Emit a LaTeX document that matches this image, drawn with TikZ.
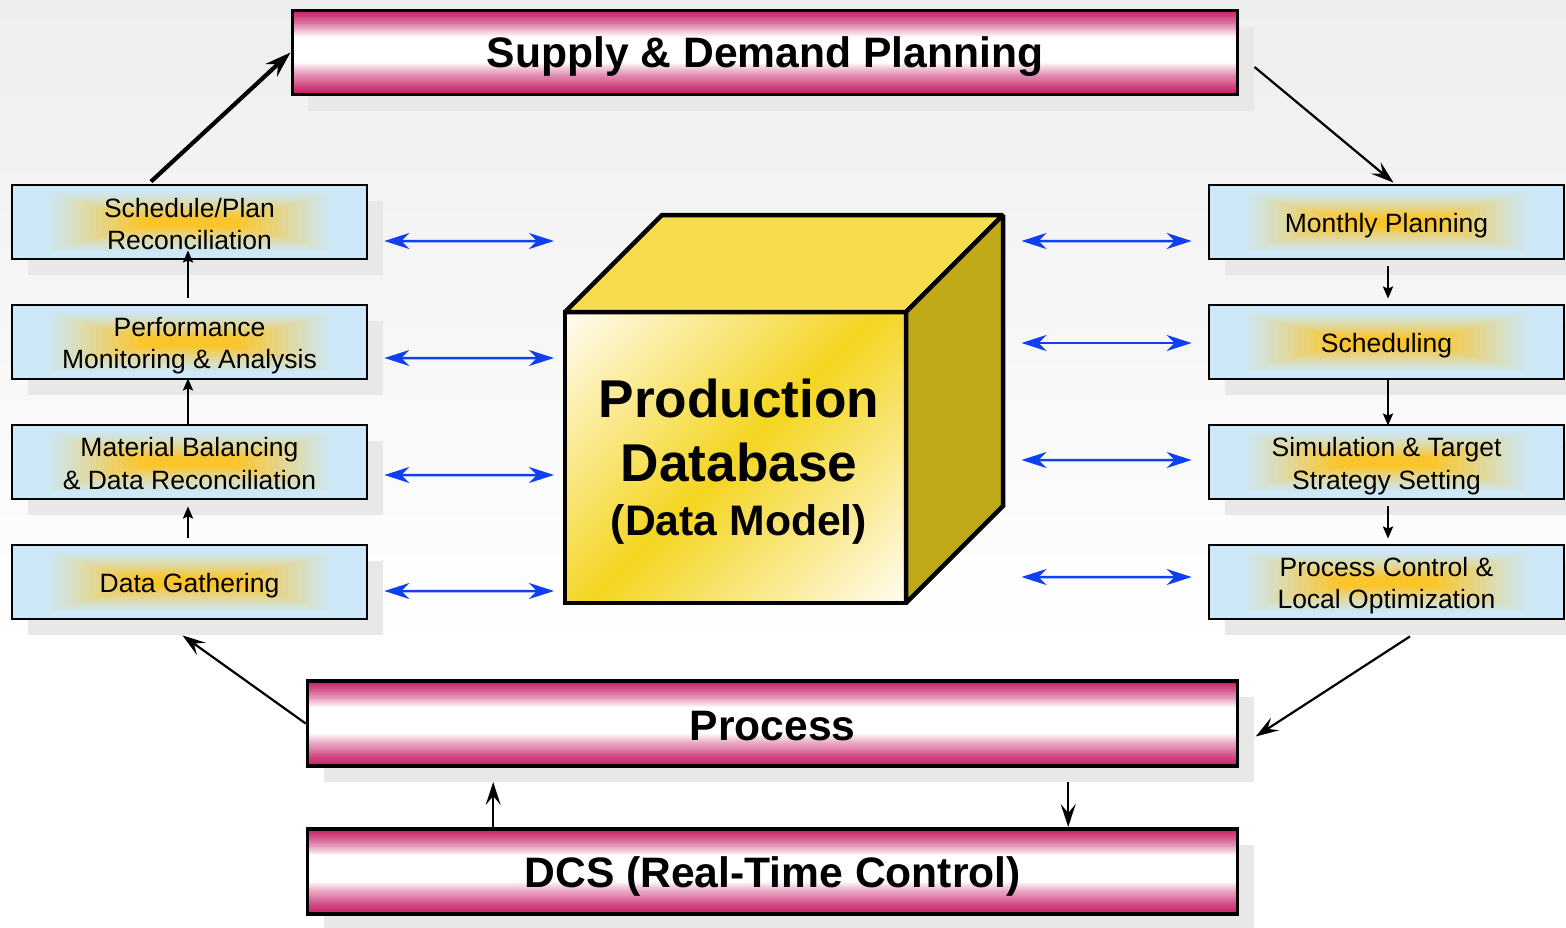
\documentclass[tikz,border=0pt]{standalone}
\usepackage{fontspec}
\setmainfont{Liberation Sans}
\usetikzlibrary{arrows.meta,shadows}
\definecolor{barred}{HTML}{C8246A}
\definecolor{boxblue}{HTML}{CCE8F9}
\definecolor{glowcore}{HTML}{FAC52A}
\definecolor{shadowgray}{HTML}{E8E8E8}
\definecolor{cubeyellow}{HTML}{F4D520}
\definecolor{cubecream}{HTML}{FFFBF0}
\definecolor{cubetop}{HTML}{F7DD4E}
\definecolor{cubeside}{HTML}{C1AA19}
\definecolor{arrowblue}{HTML}{0F3FF0}
\definecolor{bgtop}{HTML}{EEEEEE}
\newcommand{\boxline}{\rule[-5bp]{0pt}{32bp}}
\newcommand{\barline}{\rule[-7bp]{0pt}{47bp}}
\pgfdeclareverticalshading{frontshade}{100bp}{color(0bp)=(cubecream);color(15bp)=(cubecream);color(50bp)=(cubeyellow);color(85bp)=(cubecream);color(100bp)=(cubecream)}
\tikzset{
  x=1bp,y=-1bp,
  shadowed/.style={drop shadow={shadow xshift=16bp,shadow yshift=-16bp,fill=shadowgray,opacity=1}},
  bar/.style={shadowed,rectangle,draw=black,line width=3.4bp,fill=barred,inner sep=0pt,outer sep=0pt,
    font=\bfseries\fontsize{42.6bp}{42.6bp}\selectfont,
    path picture={
      \foreach \i in {1,...,30}{
        \pgfmathsetmacro{\s}{\i/30}
        \pgfmathsetmacro{\a}{#1*(1-0.62*\s)}
        \pgfmathsetmacro{\b}{#1*(1-0.76*\s)}
        \pgfmathsetmacro{\p}{100*\s^1.3}
        \fill[white!\p!barred] ([xshift=-500bp,yshift=\a bp]path picture bounding box.center) rectangle ([xshift=500bp,yshift=-\b bp]path picture bounding box.center);
      }}},
  stagebox/.style={shadowed,rectangle,draw=black,line width=2.8bp,fill=boxblue,inner sep=0pt,
    minimum width=355bp,minimum height=74bp,align=center,
    font=\fontsize{26.5bp}{32bp}\selectfont,
    path picture={
      \foreach \i in {23,22,...,1}{
        \pgfmathsetmacro{\tt}{\i/24}
        \pgfmathsetmacro{\w}{150*\tt^0.6}
        \pgfmathsetmacro{\h}{33*\tt}
        \pgfmathsetmacro{\p}{min(100,125*(1-\tt)^1.4)}
        \fill[glowcore!\p!boxblue] ([xshift=-\w bp,yshift=-\h bp]path picture bounding box.center) rectangle ([xshift=\w bp,yshift=\h bp]path picture bounding box.center);
      }}},
  bluelink/.style={draw=arrowblue,line width=2.5bp,{Stealth[length=25bp,width=16bp,inset=8bp]}-{Stealth[length=25bp,width=16bp,inset=8bp]}},
  smallflow/.style={draw=black,line width=2.6bp,-{Stealth[length=12bp,width=10bp,inset=2bp]}},
  flow/.style={draw=black,line width=2.2bp,-{Stealth[length=23bp,width=15bp,inset=9bp]}},
  thickflow/.style={draw=black,line width=4.2bp,-{Stealth[length=26bp,width=17bp,inset=9bp]}},
  cubeedge/.style={draw=black,line width=4.5bp,line join=miter,miter limit=1.5}
}
\begin{document}
\begin{tikzpicture}
\useasboundingbox (0,0) rectangle (1566,927);
\fill[white] (0,0) rectangle (1566,927);
\shade[top color=bgtop,bottom color=white] (0,0) rectangle (1566,650);
% bars
\node[bar=42,minimum width=945bp,minimum height=84bp] (supply) at (765,52.5) {\barline Supply \& Demand Planning};
\node[bar=42.5,minimum width=930bp,minimum height=85bp] (process) at (772.7,723.5) {\barline Process};
\node[bar=42.5,minimum width=930bp,minimum height=85bp] (dcs) at (772.7,871.5) {\barline DCS (Real-Time Control)};
% left stack
\node[stagebox] (schedule) at (189.5,222) {\boxline Schedule/Plan\\\boxline Reconciliation};
\node[stagebox] (performance) at (189.5,342) {\boxline Performance\\\boxline Monitoring \& Analysis};
\node[stagebox] (material) at (189.5,462) {\boxline Material Balancing\\\boxline \& Data Reconciliation};
\node[stagebox] (gathering) at (189.5,582) {\boxline Data Gathering};
% right stack
\node[stagebox] (monthly) at (1386.5,222) {\boxline Monthly Planning};
\node[stagebox] (scheduling) at (1386.5,342) {\boxline Scheduling};
\node[stagebox] (simulation) at (1386.5,462) {\boxline Simulation \& Target\\\boxline Strategy Setting};
\node[stagebox] (control) at (1386.5,582) {\boxline Process Control \&\\\boxline Local Optimization};
% cube
\node[rectangle,cubeedge,minimum width=341bp,minimum height=291bp,inner sep=0pt,outer sep=0pt,
  shading=frontshade,shading angle=45] (front) at (735.5,457.5) {};
\coordinate (backtop) at (1003,215);
\coordinate (backleft) at (662,215);
\coordinate (backbottom) at (1003,506);
\filldraw[cubeedge,fill=cubetop] (front.north west) -- (backleft) -- (backtop) -- (front.north east) -- cycle;
\filldraw[cubeedge,fill=cubeside] (front.north east) -- (backtop) -- (backbottom) -- (front.south east) -- cycle;
\node[align=center,inner sep=0pt,font=\bfseries\fontsize{53.2bp}{64bp}\selectfont] (dbname) at (739,430) {Production\\Database};
\node[inner sep=0pt,font=\bfseries\fontsize{42.7bp}{50bp}\selectfont] (dbmodel) at (739,524.5) {(Data Model)};
% blue links, left
\draw[bluelink] ([xshift=16bp,yshift=-19bp]schedule.east) -- ([xshift=-11bp,yshift=216.5bp]front.west);
\draw[bluelink] ([xshift=16bp,yshift=-16bp]performance.east) -- ([xshift=-11bp,yshift=99.5bp]front.west);
\draw[bluelink] ([xshift=16bp,yshift=-13bp]material.east) -- ([xshift=-11bp,yshift=-17.5bp]front.west);
\draw[bluelink] ([xshift=16bp,yshift=-9bp]gathering.east) -- ([xshift=-11bp,yshift=-133.5bp]front.west);
% blue links, right
\coordinate (r1) at (1021.5,241);
\coordinate (r2) at (1021.5,343);
\coordinate (r3) at (1021.5,460);
\coordinate (r4) at (1021.5,577);
\draw[bluelink] (r1) -- ([xshift=-16bp,yshift=-19bp]monthly.west);
\draw[bluelink] (r2) -- ([xshift=-16bp,yshift=-1bp]scheduling.west);
\draw[bluelink] (r3) -- ([xshift=-16bp,yshift=2bp]simulation.west);
\draw[bluelink] (r4) -- ([xshift=-16bp,yshift=5bp]control.west);
% stack flows
\draw[smallflow] ([xshift=-1.5bp,yshift=6bp]gathering.north) -- ([xshift=-1.5bp,yshift=-6bp]material.south);
\draw[smallflow] ([xshift=-1.5bp]material.north) -- ([xshift=-1.5bp,yshift=2bp]performance.south);
\draw[smallflow] ([xshift=-1.5bp,yshift=6bp]performance.north) -- ([xshift=-1.5bp,yshift=10bp]schedule.south);
\draw[smallflow] ([xshift=1.5bp,yshift=-6bp]monthly.south) -- ([xshift=1.5bp,yshift=5bp]scheduling.north);
\draw[smallflow] ([xshift=1.5bp]scheduling.south) -- ([xshift=1.5bp,yshift=-2bp]simulation.north);
\draw[smallflow] ([xshift=1.5bp,yshift=-6bp]simulation.south) -- ([xshift=1.5bp,yshift=5bp]control.north);
% main cycle
\draw[thickflow] ([xshift=-38.5bp,yshift=2bp]schedule.north) -- ([xshift=-2bp]supply.west);
\draw[flow] ([xshift=17bp,yshift=-14.5bp]supply.east) -- ([xshift=7bp,yshift=1bp]monthly.north);
\draw[flow] ([xshift=23.5bp,yshift=-16bp]control.south) -- ([xshift=18bp,yshift=-13bp]process.east);
\draw[flow] ([xshift=-2bp]process.west) -- ([xshift=-7bp,yshift=-15bp]gathering.south);
\draw[flow] ([xshift=-279.5bp]dcs.north) -- ([xshift=-279.5bp,yshift=-16bp]process.south);
\draw[flow] ([xshift=295.5bp,yshift=-16bp]process.south) -- ([xshift=295.5bp,yshift=2bp]dcs.north);
\end{tikzpicture}
\end{document}
